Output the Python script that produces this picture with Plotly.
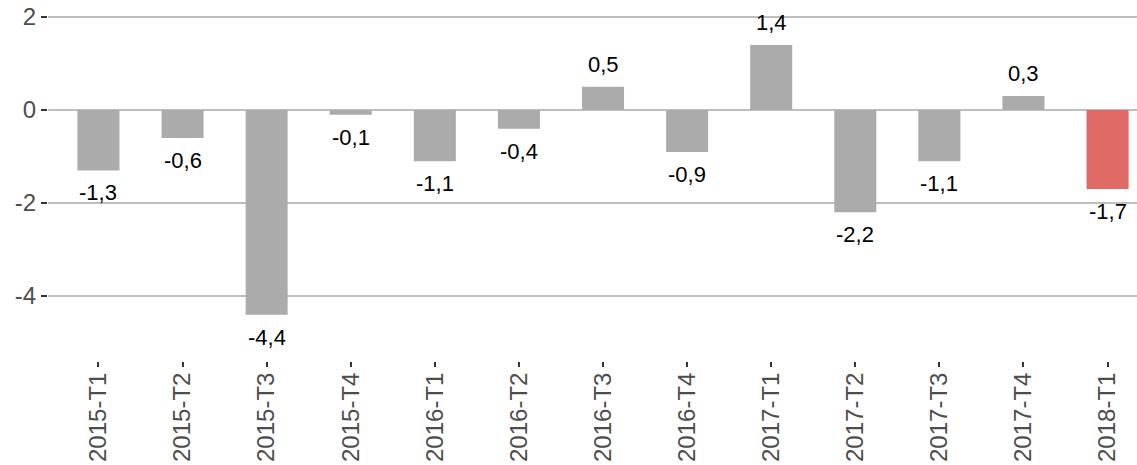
import plotly.graph_objects as go

categories = ["2015-T1", "2015-T2", "2015-T3", "2015-T4", "2016-T1", "2016-T2",
              "2016-T3", "2016-T4", "2017-T1", "2017-T2", "2017-T3", "2017-T4", "2018-T1"]
values = [-1.3, -0.6, -4.4, -0.1, -1.1, -0.4, 0.5, -0.9, 1.4, -2.2, -1.1, 0.3, -1.7]
highlight = "2018-T1"
y_ticks = [-4, -2, 0, 2]

GRAY = "#ababab"
RED = "#e06a66"
colors = [RED if c == highlight else GRAY for c in categories]
idx = list(range(len(categories)))

fig = go.Figure()
fig.add_trace(go.Bar(x=idx, y=values, marker=dict(color=colors, line=dict(width=0)),
                     width=0.5, hoverinfo="skip"))

def fmt(v):
    return ("%.1f" % v).replace(".", ",")

for i, v in zip(idx, values):
    fig.add_annotation(x=i, y=v, text=fmt(v), showarrow=False,
                       yanchor="top" if v < 0 else "bottom",
                       yshift=-8 if v < 0 else 8,
                       font=dict(family="Liberation Sans, Arial", size=22, color="black"))

# white vertical lines at category centres (above grid, below bars)
for i in idx:
    fig.add_shape(type="line", xref="x", yref="paper", x0=i, x1=i, y0=0, y1=1,
                  line=dict(color="white", width=2), layer="between")

fig.update_layout(
    width=1137, height=465,
    margin=dict(l=48, r=0, t=0, b=104),
    paper_bgcolor="white", plot_bgcolor="white",
    showlegend=False,
    font=dict(family="Liberation Sans, Arial", size=24, color="#4d4d4d"),
)
fig.update_xaxes(range=[-0.6, 12.35], tickmode="array", tickvals=idx, ticktext=categories,
                 tickangle=-90, ticks="outside", ticklen=5, tickwidth=2, tickcolor="#333333",
                 ticklabelstandoff=-4,
                 showgrid=False, zeroline=False, showline=False, automargin=False,
                 tickfont=dict(size=24, color="#4d4d4d"))
fig.update_yaxes(range=[-5.397, 2.366], tickmode="array", tickvals=y_ticks,
                 ticktext=[str(t) for t in y_ticks],
                 ticks="outside", ticklen=6, tickwidth=2, tickcolor="#333333",
                 showgrid=True, gridcolor="#bebebe", gridwidth=2,
                 zeroline=False, showline=False, automargin=False,
                 tickfont=dict(size=24, color="#4d4d4d"))

fig.write_html("out.html", config={"displayModeBar": False},
               post_script="document.body.style.margin='0';document.body.style.overflow='hidden';")
